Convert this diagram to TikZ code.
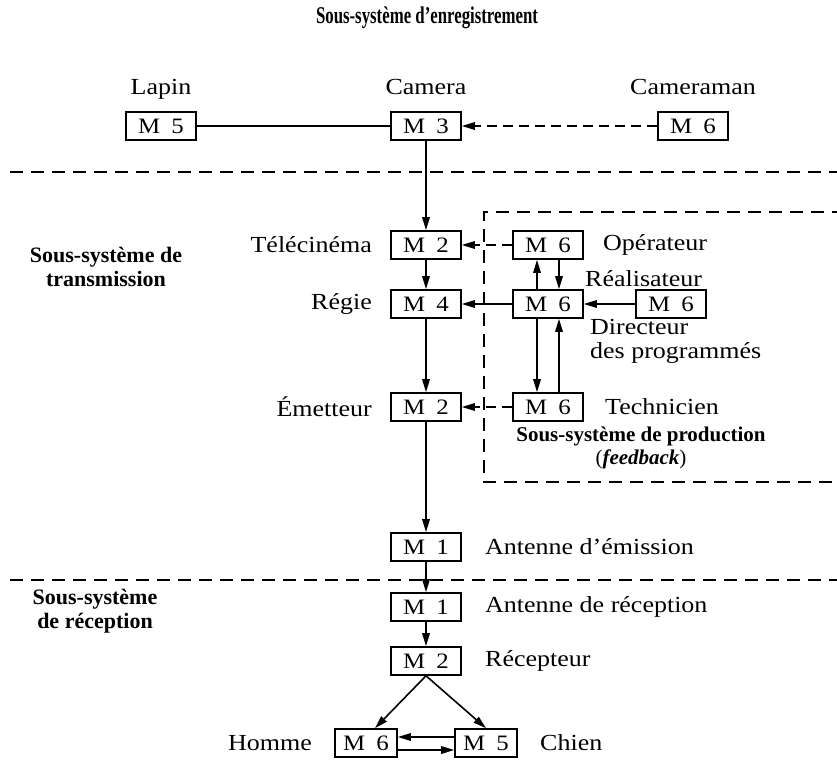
\documentclass[tikz,border=0pt]{standalone}
\usepackage{fontspec}
\setmainfont{Liberation Serif}
\newfontfamily\widefont[FakeStretch=1.13]{Liberation Serif}
\newfontfamily\narrowfont[FakeStretch=0.7]{Liberation Serif}
\usetikzlibrary{arrows.meta}

\tikzset{
  mbox/.style={draw, line width=1.6pt, minimum width=70pt, minimum height=28pt,
    inner sep=2pt, font=\widefont\fontsize{22}{24}\selectfont},
  lbl/.style={font=\widefont\fontsize{23}{24}\selectfont, inner sep=0pt},
  sstitle/.style={font=\fontsize{22}{24}\selectfont\bfseries, align=center, inner sep=0pt},
  flow/.style={line width=1.6pt, -{Triangle[length=13pt,width=7.5pt]}},
  dflow/.style={flow, dash pattern=on 10pt off 6pt},
  border/.style={line width=1.6pt, dash pattern=on 13pt off 8pt},
}

\begin{document}
\begin{tikzpicture}[x=1pt, y=-1pt]
  \path[use as bounding box] (0,0) rectangle (837,762);
  \clip (0,0) rectangle (837,762);

  % ---- subsystem borders ----
  \draw[border] (10,172) -- (837,172);
  \draw[border] (10,580) -- (837,580);
  \draw[border] (845,212) -| (484,482) -- (845,482);

  % ---- subsystem titles ----
  \node[sstitle, font=\narrowfont\fontsize{24}{26}\selectfont\bfseries] (tenr) at (427,18)
    {Sous-système d’enregistrement};
  \node[sstitle] (ttrans) at (106,267) {Sous-système de\\transmission};
  \node[sstitle] (trecep) at (95,611) {Sous-système\\de réception};
  \node[sstitle, font=\fontsize{21}{23}\selectfont\bfseries] (tprod) at (641,448)
    {Sous-système de production\\{\mdseries(}\textit{feedback}{\mdseries)}};

  % ---- recording ----
  \node[mbox] (lapin) at (161,126) {M\enspace 5};
  \node[mbox] (camera) at (426,126) {M\enspace 3};
  \node[mbox] (camman) at (693,126) {M\enspace 6};
  \node[lbl, anchor=base] (llapin) at (161,95) {Lapin};
  \node[lbl, anchor=base] (lcamera) at (426,95) {Camera};
  \node[lbl, anchor=base] (lcamman) at (693,95) {Cameraman};

  % ---- transmission chain ----
  \node[mbox] (telec) at (426,245) {M\enspace 2};
  \node[mbox] (regie) at (426,304) {M\enspace 4};
  \node[mbox] (emett) at (426,407) {M\enspace 2};
  \node[mbox] (antem) at (426,547) {M\enspace 1};
  \node[mbox] (antrec) at (426,607) {M\enspace 1};
  \node[mbox] (recept) at (426,661) {M\enspace 2};
  \node[mbox, minimum width=62pt] (homme) at (366,743) {M\enspace 6};
  \node[mbox, minimum width=62pt] (chien) at (486,743) {M\enspace 5};

  \node[lbl, anchor=east] (ltelec) at (372,245) {Télécinéma};
  \node[lbl, anchor=east] (lregie) at (372,304) {Régie};
  \node[lbl, anchor=east] (lemett) at (372,407) {Émetteur};
  \node[lbl, anchor=west] (lantem) at (485,547) {Antenne d’émission};
  \node[lbl, anchor=west] (lantrec) at (485,607) {Antenne de réception};
  \node[lbl, anchor=west] (lrecept) at (485,661) {Récepteur};
  \node[lbl, anchor=east] (lhomme) at (312,743) {Homme};
  \node[lbl, anchor=west] (lchien) at (540,743) {Chien};

  % ---- production (feedback) ----
  \node[mbox] (operat) at (548,245) {M\enspace 6};
  \node[mbox] (realis) at (548,304) {M\enspace 6};
  \node[mbox] (direct) at (671,304) {M\enspace 6};
  \node[mbox] (techn) at (548,407) {M\enspace 6};

  \node[lbl, anchor=west] (loperat) at (603,245) {Opérateur};
  \node[lbl, anchor=west] (lrealis) at (585,279) {Réalisateur};
  \node[lbl, anchor=west, align=left] (ldirect) at (590,341) {Directeur\\des programmés};
  \node[lbl, anchor=west] (ltechn) at (605,407) {Technicien};

  % ---- connectors ----
  \draw[line width=1.6pt] (lapin) -- (camera);
  \draw[dflow] (camman) -- (camera);
  \draw[flow] (camera) -- (telec);
  \draw[flow] (telec) -- (regie);
  \draw[flow] (regie) -- (emett);
  \draw[flow] (emett) -- (antem);
  \draw[flow] (antem) -- (antrec);
  \draw[flow] (antrec) -- (recept);
  \draw[flow] (recept.south) -- ([xshift=9pt]homme.north);
  \draw[flow] (recept.south) -- (chien.north);
  \draw[flow] ([yshift=6pt]chien.west) -- ([yshift=6pt]homme.east);
  \draw[flow] ([yshift=-7pt]homme.east) -- ([yshift=-7pt]chien.west);

  \draw[dflow] (operat) -- (telec);
  \draw[flow] (realis) -- (regie);
  \draw[flow] (direct) -- (realis);
  \draw[dflow] (techn) -- (emett);
  \draw[flow] ([xshift=-11pt]realis.north) -- ([xshift=-11pt]operat.south);
  \draw[flow] ([xshift=11pt]operat.south) -- ([xshift=11pt]realis.north);
  \draw[flow] ([xshift=-11pt]realis.south) -- ([xshift=-11pt]techn.north);
  \draw[flow] ([xshift=11pt]techn.north) -- ([xshift=11pt]realis.south);
\end{tikzpicture}
\end{document}
